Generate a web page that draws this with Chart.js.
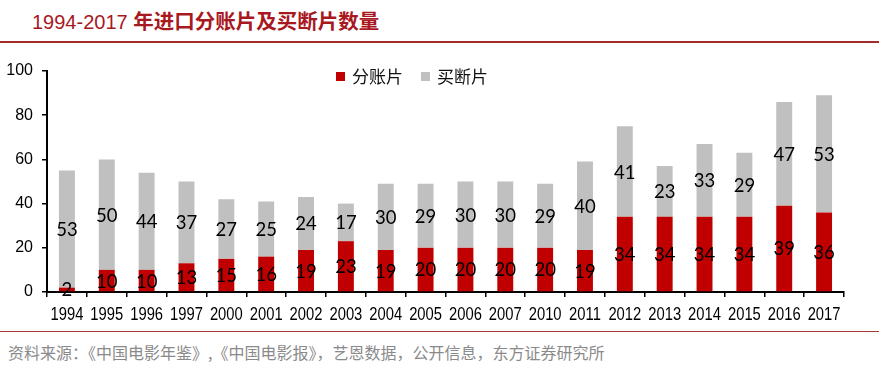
<!DOCTYPE html>
<html>
<head>
<meta charset="utf-8">
<script src="https://cdn.jsdelivr.net/npm/chart.js@4.4.1/dist/chart.umd.min.js"></script>
<style>
  html, body { margin:0; padding:0; background:#fff; }
  body { width:879px; height:370px; position:relative; overflow:hidden; }
  #title { position:absolute; left:32px; top:7px; line-height:26px; color:#a8191f; white-space:nowrap; }
  #title .num { font-family:"Liberation Sans", Arial, sans-serif; font-size:20px; }
  #title .cn { font-family:"Noto Sans CJK SC", sans-serif; font-size:20.5px; font-weight:bold; }
  #topline { position:absolute; left:0; top:41px; width:879px; height:2px; background:#a52a2a; }
  #botline { position:absolute; left:0; top:331px; width:879px; height:1px; background:#a83a3a; }
  #source { position:absolute; left:8px; top:341px; line-height:22px; font-size:16px; color:#8a8a8a; font-family:"Noto Sans CJK SC", sans-serif; white-space:nowrap; }
  #chartwrap { position:absolute; left:0; top:50px; width:879px; height:280px; }
  .leg { position:absolute; top:65px; font-family:"Noto Sans CJK SC", sans-serif; font-size:17px; line-height:22px; color:#111; white-space:nowrap; }
  .sw { position:absolute; top:72px; width:9px; height:9px; }
</style>
</head>
<body>
<div id="title"><span class="num">1994-2017 </span><span class="cn">年进口分账片及买断片数量</span></div>
<div id="topline"></div>
<div id="chartwrap"><canvas id="c" width="879" height="280"></canvas></div>
<div class="sw" style="left:336px;background:#c00000"></div>
<div class="leg" style="left:352px">分账片</div>
<div class="sw" style="left:421px;background:#c0c0c0"></div>
<div class="leg" style="left:437px">买断片</div>
<div id="botline"></div>
<div id="source">资料来源：《中国电影年鉴》,《中国电影报》，艺恩数据，公开信息，东方证券研究所</div>
<script>
const categories = ["1994","1995","1996","1997","2000","2001","2002","2003","2004","2005","2006","2007","2010","2011","2012","2013","2014","2015","2016","2017"];
const revenueShare = [2,10,10,13,15,16,19,23,19,20,20,20,20,19,34,34,34,34,39,36];
const flatFee = [53,50,44,37,27,25,24,17,30,29,30,30,29,40,41,23,33,29,47,53];
const seriesNames = ["分账片","买断片"];
const yTicks = [0,20,40,60,80,100];

const labelPlugin = {
  id: 'segLabels',
  afterDatasetsDraw(chart) {
    const ctx = chart.ctx;
    ctx.save();
    ctx.font = '18.5px Lato, "Open Sans", sans-serif';
    ctx.fillStyle = '#000';
    ctx.textAlign = 'center';
    ctx.textBaseline = 'middle';
    chart.data.datasets.forEach((ds, di) => {
      const meta = chart.getDatasetMeta(di);
      meta.data.forEach((el, i) => {
        const yc = (el.y + el.base) / 2;
        ctx.fillText(String(ds.data[i]), el.x, yc + 1);
      });
    });
    ctx.restore();
  }
};

// Condensed category labels drawn at the x scale's own tick positions
const xLabelPlugin = {
  id: 'condensedX',
  afterDraw(chart) {
    const ctx = chart.ctx;
    const xs = chart.scales.x;
    const sx = 0.82;
    ctx.save();
    ctx.font = '18px "Liberation Sans", Arial, sans-serif';
    ctx.fillStyle = '#000';
    ctx.textAlign = 'center';
    ctx.textBaseline = 'middle';
    const yc = xs.top + 23;
    chart.data.labels.forEach((lab, i) => {
      const x = xs.getPixelForTick(i);
      ctx.save();
      ctx.translate(x, yc);
      ctx.scale(sx, 1);
      ctx.fillText(lab, 0, 0);
      ctx.restore();
    });
    ctx.restore();
  }
};

new Chart(document.getElementById('c'), {
  type: 'bar',
  data: {
    labels: categories,
    datasets: [
      { label: seriesNames[0], data: revenueShare, backgroundColor: '#c00000', borderWidth: 0 },
      { label: seriesNames[1], data: flatFee, backgroundColor: '#c0c0c0', borderWidth: 0 }
    ]
  },
  options: {
    responsive: false,
    animation: false,
    devicePixelRatio: 1,
    layout: { padding: { top: 21, right: 35, left: 0, bottom: 0 } },
    datasets: { bar: { barPercentage: 0.5, categoryPercentage: 0.8 } },
    plugins: { legend: { display: false }, tooltip: { enabled: false } },
    scales: {
      x: {
        stacked: true,
        grid: { display: true, drawOnChartArea: false, drawTicks: true, tickLength: 5, color: '#000', lineWidth: 1.5, offset: true },
        border: { display: true, color: '#000', width: 2 },
        ticks: { display: false, autoSkip: false },
        afterFit(s) { s.height = 38; }
      },
      y: {
        stacked: true,
        min: 0, max: 100,
        afterBuildTicks(s) { s.ticks = yTicks.map(v => ({ value: v })); },
        grid: { display: true, drawOnChartArea: false, drawTicks: true, tickLength: 5, color: '#000', lineWidth: 1.5 },
        border: { display: true, color: '#000', width: 2 },
        ticks: { color: '#000', padding: 9,
                 font: { family: '"Liberation Sans", Arial, sans-serif', size: 16 } },
        afterFit(s) { s.width = 47; }
      }
    }
  },
  plugins: [labelPlugin, xLabelPlugin]
});
</script>
</body>
</html>
